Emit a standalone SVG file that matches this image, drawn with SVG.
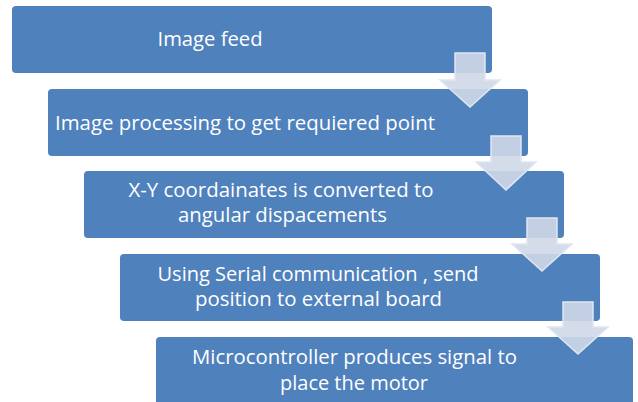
<svg xmlns="http://www.w3.org/2000/svg" width="638" height="402" viewBox="0 0 638 402">
<style>
.box{fill:#4f81bd;}
.t{font-family:"Open Sans","Liberation Sans",sans-serif;font-size:19.5px;fill:#ffffff;text-anchor:middle;}
.arr{fill:#cfd8e8;fill-opacity:0.9;stroke:#dfe6f1;stroke-width:1.5;stroke-linejoin:miter;}
</style>
<rect width="638" height="402" fill="#ffffff"/>
<g id="node1"><rect class="box" x="12" y="6" width="480" height="67" rx="4"/>
<text class="t" x="210" y="46" textLength="105" lengthAdjust="spacingAndGlyphs">Image feed</text></g>
<g id="node2"><rect class="box" x="48" y="89" width="480" height="67" rx="4"/>
<text class="t" x="245" y="130" textLength="380" lengthAdjust="spacingAndGlyphs">Image processing to get requiered point</text></g>
<g id="node3"><rect class="box" x="84" y="171" width="480" height="67" rx="4"/>
<text class="t" x="281" y="197" textLength="305" lengthAdjust="spacingAndGlyphs">X-Y coordainates is converted to</text>
<text class="t" x="282.5" y="222" textLength="209" lengthAdjust="spacingAndGlyphs">angular dispacements</text></g>
<g id="node4"><rect class="box" x="120" y="254" width="480" height="67" rx="4"/>
<text class="t" x="318" y="281" textLength="321" lengthAdjust="spacingAndGlyphs">Using Serial communication , send</text>
<text class="t" x="318.5" y="306" textLength="247" lengthAdjust="spacingAndGlyphs">position to external board</text></g>
<g id="node5"><rect class="box" x="156" y="337" width="477" height="70" rx="4"/>
<text class="t" x="354.5" y="364" textLength="325" lengthAdjust="spacingAndGlyphs">Microcontroller produces signal to</text>
<text class="t" x="354" y="390" textLength="148" lengthAdjust="spacingAndGlyphs">place the motor</text></g>
<g id="connectors">
<path class="arr" d="M455,53 H485 V80 H500 L470,107 L440,80 H455 Z"/>
<path class="arr" d="M491,136 H521 V162 H536 L506,190 L476,162 H491 Z"/>
<path class="arr" d="M527,218 H557 V244 H572 L542,271 L512,244 H527 Z"/>
<path class="arr" d="M563,302 H593 V327 H608 L578,354 L548,327 H563 Z"/>
</g>
</svg>
